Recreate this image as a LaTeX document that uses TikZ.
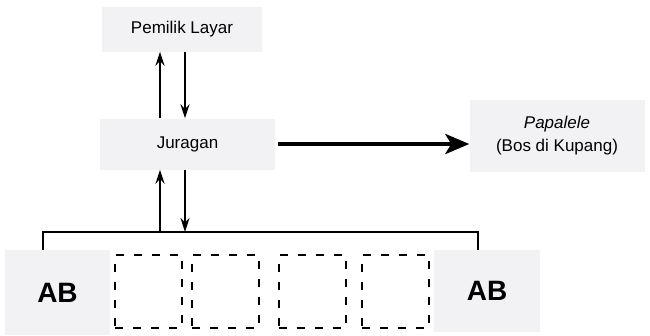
\documentclass[tikz,border=0pt]{standalone}
\usepackage{fontspec}
\setmainfont{Liberation Sans}
\usetikzlibrary{arrows.meta}
\definecolor{boxgray}{RGB}{242,242,244}
\begin{document}
\begin{tikzpicture}[x=1pt,y=-1pt,
  graybox/.style={fill=boxgray, draw=none, inner sep=0pt, font=\fontsize{17}{23}\selectfont, align=center},
  abbox/.style={graybox, font=\fontsize{28}{30}\selectfont\bfseries},
  dashbox/.style={draw=black, line width=2pt, dash pattern=on 8pt off 10pt, minimum width=67pt, minimum height=73pt, inner sep=0pt},
  arr/.style={line width=2pt, -{Stealth[length=14pt,width=9pt]}},
  bigarr/.style={line width=4.5pt, -{Stealth[length=24pt,width=20pt,inset=6pt]}},
  barline/.style={line width=2pt}]
\useasboundingbox (0,0) rectangle (650,335);
\fill[white] (0,0) rectangle (650,335);
\node[graybox, minimum width=160pt, minimum height=45pt] (pem) at (182,29) {Pemilik Layar};
\node[graybox, minimum width=175pt, minimum height=51pt] (jur) at (187.5,144) {Juragan};
\node[graybox, minimum width=175pt, minimum height=72pt] (pap) at (557,136) {\textit{Papalele}\\(Bos di Kupang)};
\node[abbox, minimum width=105pt, minimum height=85pt] (abL) at (57.5,292.5) {AB};
\node[abbox, minimum width=106pt, minimum height=82pt] (abR) at (487,291) {AB};
\node[dashbox] (d1) at (148.5,291.5) {};
\node[dashbox] (d2) at (225,291.5) {};
\node[dashbox] (d3) at (312,291.5) {};
\node[dashbox] (d4) at (395,291.5) {};
\coordinate (barL) at (43,232);
\coordinate (barR) at (478,232);
\coordinate (upx) at (160,0);
\coordinate (dnx) at (185,0);
\draw[barline] (barL |- abL.north) -- (barL) -- (barR) -- (barR |- abR.north);
\draw[arr] (upx |- barL) -- (upx |- jur.south);
\draw[arr] (dnx |- jur.south) -- (dnx |- barL);
\draw[arr] (upx |- jur.north) -- (upx |- pem.south);
\draw[arr] (dnx |- pem.south) -- (dnx |- jur.north);
\draw[bigarr] ([xshift=3pt]jur.east) -- (jur.east -| pap.west);
\end{tikzpicture}
\end{document}
